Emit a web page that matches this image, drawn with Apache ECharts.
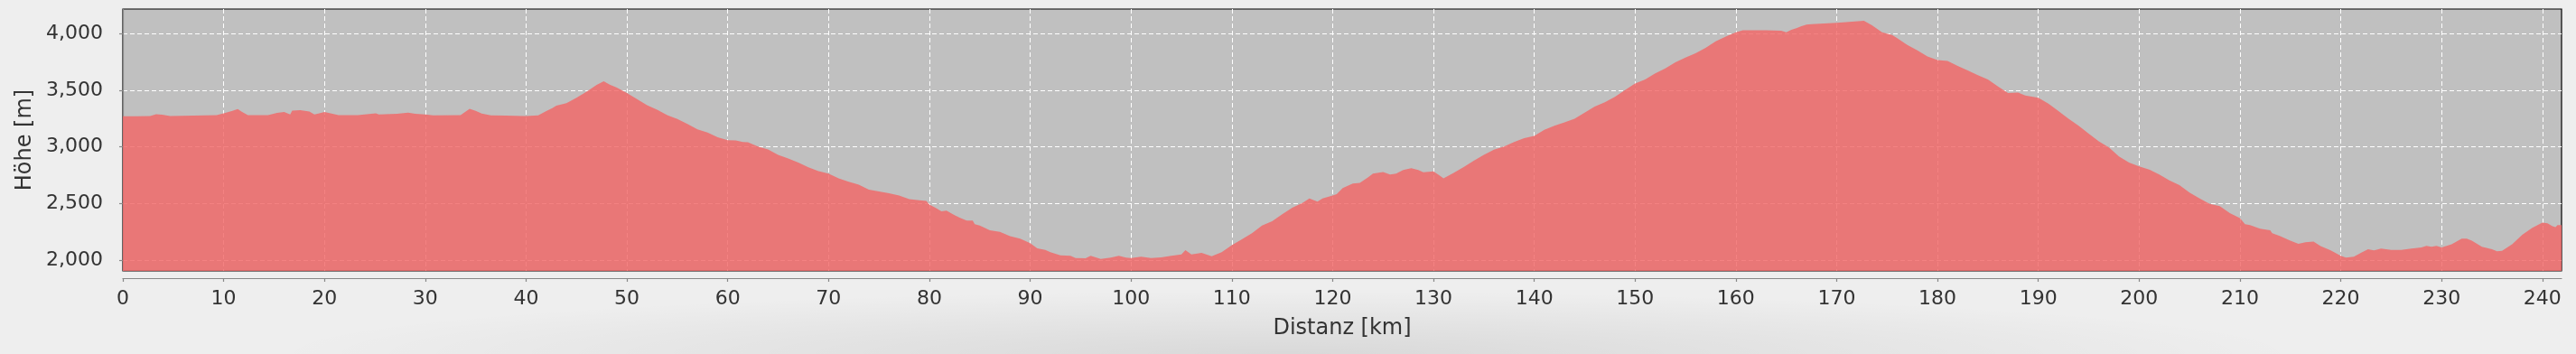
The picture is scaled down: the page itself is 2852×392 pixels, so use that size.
<!DOCTYPE html>
<html>
<head>
<meta charset="utf-8">
<script src="https://cdn.jsdelivr.net/npm/echarts@6/dist/echarts.min.js"></script>
<style>
  html, body { margin: 0; padding: 0; background: #eeeeee; overflow: hidden; }
  #shade { position: absolute; left: 300px; top: 322px; width: 2250px; height: 70px;
           background: radial-gradient(ellipse 50% 100% at 50% 100%, rgba(0,0,0,0.09), rgba(0,0,0,0) 100%); }
  #chart { position: absolute; left: 0; top: 0; width: 2852px; height: 392px; }
</style>
</head>
<body>
<div id="shade"></div>
<div id="chart"></div>
<script>
// Distance along the route [km]
const distanceKm = [
  0, 1.2, 2.7, 3.3, 3.9, 4.7, 7, 9.3, 10, 10.8, 11.4, 11.8, 12.4, 14.4, 15.3, 16, 16.6, 16.8, 17.6, 18.5,
  19, 19.4, 20, 20.6, 21.4, 23.3, 25.1, 25.4, 27.2, 28.3, 29, 30, 30.8, 33.5, 34.4, 35, 35.6, 36.5, 38, 39.8,
  40, 41.2, 42, 42.6, 43, 44, 45, 46, 47, 47.7, 48.3, 49, 50, 51, 52, 53, 54, 55, 56, 57,
  58, 59, 60, 60.8, 61.5, 62, 63, 64, 65, 66, 67, 68, 69, 70, 71, 72, 73, 74, 75, 76,
  77, 78, 79, 79.7, 80, 80.6, 81.2, 81.7, 82.5, 83, 83.7, 84.3, 84.5, 85, 86, 87, 88, 89, 90, 90.7,
  91.5, 92, 93, 94, 94.5, 95.5, 96, 97, 98, 98.8, 99.5, 100, 101, 102, 103, 104, 105, 105.4, 106, 107,
  108, 109, 110, 111, 112, 113, 114, 115, 116, 117, 117.7, 118.5, 119, 120, 120.4, 121, 122, 122.7, 123.5, 124,
  125, 125.7, 126.3, 127, 127.8, 128.5, 129, 130, 130.6, 131, 132, 133, 134, 135, 136, 137, 138, 139, 140, 141,
  142, 143, 144, 145, 146, 147, 148, 149, 150, 151, 152, 153, 154, 155, 156, 157, 158, 159, 160, 160.7,
  163, 164.5, 165, 165.5, 166, 166.5, 167, 167.5, 170, 172.7, 173.5, 174.5, 175.5, 176, 177, 178, 179, 180, 181, 182,
  183, 184, 185, 186, 187, 188, 188.7, 190, 191, 192, 193, 194, 195, 196, 197, 198, 199, 200, 201, 202,
  203, 204, 205, 206, 207, 208, 209, 210, 210.5, 211, 212, 213, 213.2, 214, 215, 215.8, 216.5, 217.3, 218, 219,
  220, 220.5, 221.3, 222, 222.7, 223.3, 224, 225, 226, 227, 228, 228.5, 229, 229.5, 230, 231, 232, 232.5, 233, 234,
  235, 235.5, 236, 237, 238, 239, 240, 240.5, 241, 241.3, 241.5, 241.9
];
// Elevation [m]
const elevationM = [
  3270, 3270, 3272, 3288, 3283, 3272, 3275, 3280, 3296, 3315, 3333, 3310, 3280, 3280, 3299, 3307, 3285, 3320, 3323, 3312,
  3285, 3293, 3307, 3296, 3280, 3280, 3296, 3285, 3291, 3301, 3291, 3285, 3278, 3280, 3336, 3317, 3293, 3278, 3275, 3272,
  3272, 3278, 3315, 3341, 3363, 3386, 3434, 3487, 3546, 3578, 3548, 3522, 3474, 3421, 3368, 3328, 3280, 3246, 3203, 3155,
  3126, 3084, 3060, 3057, 3044, 3041, 3004, 2977, 2930, 2898, 2863, 2821, 2786, 2765, 2722, 2693, 2667, 2624, 2608, 2592,
  2571, 2539, 2529, 2523, 2492, 2465, 2433, 2438, 2398, 2377, 2351, 2351, 2319, 2306, 2266, 2252, 2213, 2191, 2151, 2106,
  2093, 2072, 2045, 2040, 2021, 2019, 2040, 2013, 2024, 2040, 2024, 2021, 2032, 2021, 2027, 2040, 2053, 2090, 2053, 2066,
  2037, 2072, 2133, 2186, 2239, 2306, 2345, 2406, 2465, 2505, 2545, 2518, 2545, 2571, 2584, 2637, 2677, 2683, 2730, 2765,
  2778, 2757, 2765, 2797, 2813, 2797, 2776, 2784, 2749, 2722, 2770, 2823, 2877, 2930, 2975, 3004, 3044, 3076, 3097, 3150,
  3187, 3216, 3248, 3301, 3355, 3394, 3442, 3501, 3559, 3594, 3647, 3692, 3745, 3788, 3825, 3873, 3931, 3973, 4011, 4027,
  4027, 4024, 4011, 4032, 4045, 4064, 4077, 4082, 4093, 4112, 4072, 4011, 3987, 3958, 3899, 3851, 3798, 3766, 3758, 3713,
  3673, 3633, 3594, 3533, 3474, 3479, 3453, 3434, 3381, 3315, 3248, 3187, 3116, 3049, 2996, 2916, 2863, 2829, 2800, 2757,
  2704, 2664, 2598, 2545, 2497, 2478, 2417, 2372, 2319, 2311, 2279, 2266, 2239, 2213, 2173, 2146, 2160, 2165, 2125, 2088,
  2040, 2024, 2032, 2066, 2098, 2088, 2104, 2093, 2093, 2104, 2114, 2128, 2120, 2128, 2114, 2141, 2191, 2191, 2173, 2120,
  2098, 2080, 2085, 2141, 2226, 2287, 2332, 2327, 2301, 2292, 2311, 2311
];
const xTickValues = [0, 10, 20, 30, 40, 50, 60, 70, 80, 90, 100, 110, 120, 130, 140, 150, 160, 170, 180, 190, 200, 210, 220, 230, 240];
const yTickValues = [2000, 2500, 3000, 3500, 4000];
const xAxisName = 'Distanz [km]';
const yAxisName = 'Höhe [m]';

const profile = distanceKm.map((d, i) => [d, elevationM[i]]);
const FONT = 'DejaVu Sans';
const TXT = '#333333';

const chart = echarts.init(document.getElementById('chart'), null, { renderer: 'canvas' });
chart.setOption({
  animation: false,
  backgroundColor: 'transparent',
  grid: {
    left: 136, right: 16, top: 10, bottom: 92,
    show: true, backgroundColor: '#c0c0c0', borderColor: '#000000', borderWidth: 1.2,
    containLabel: false
  },
  xAxis: {
    type: 'value', min: 0, max: 241.9, offset: 8,
    name: xAxisName, nameLocation: 'middle', nameGap: 44,
    nameTextStyle: { fontFamily: FONT, fontSize: 24, color: TXT },
    axisLine: { show: true, lineStyle: { color: '#888888', width: 1.2 } },
    axisTick: { show: true, length: 4, inside: false, customValues: xTickValues, lineStyle: { color: '#888888', width: 1.2 } },
    axisLabel: { customValues: xTickValues, margin: 12, fontFamily: FONT, fontSize: 22, color: TXT },
    splitLine: { show: true, lineStyle: { color: '#ffffff', width: 1, type: [5, 3] } }
  },
  yAxis: {
    type: 'value', min: 1907, max: 4215, offset: 8,
    name: yAxisName, nameLocation: 'middle', nameGap: 86,
    nameTextStyle: { fontFamily: FONT, fontSize: 24, color: TXT },
    axisLine: { show: true, lineStyle: { color: '#888888', width: 1.2 } },
    axisTick: { show: true, length: 4, inside: false, customValues: yTickValues, lineStyle: { color: '#888888', width: 1.2 } },
    axisLabel: {
      customValues: yTickValues, margin: 14, fontFamily: FONT, fontSize: 22, color: TXT,
      formatter: v => Math.round(v).toLocaleString('en-US')
    },
    splitLine: { show: true, lineStyle: { color: '#ffffff', width: 1, type: [5, 3] } }
  },
  series: [{
    type: 'line',
    data: profile,
    showSymbol: false,
    symbol: 'none',
    lineStyle: { width: 0 },
    areaStyle: { color: 'rgb(242, 102, 102)', opacity: 0.82, origin: 'start' },
    silent: true
  }]
});
</script>
</body>
</html>
